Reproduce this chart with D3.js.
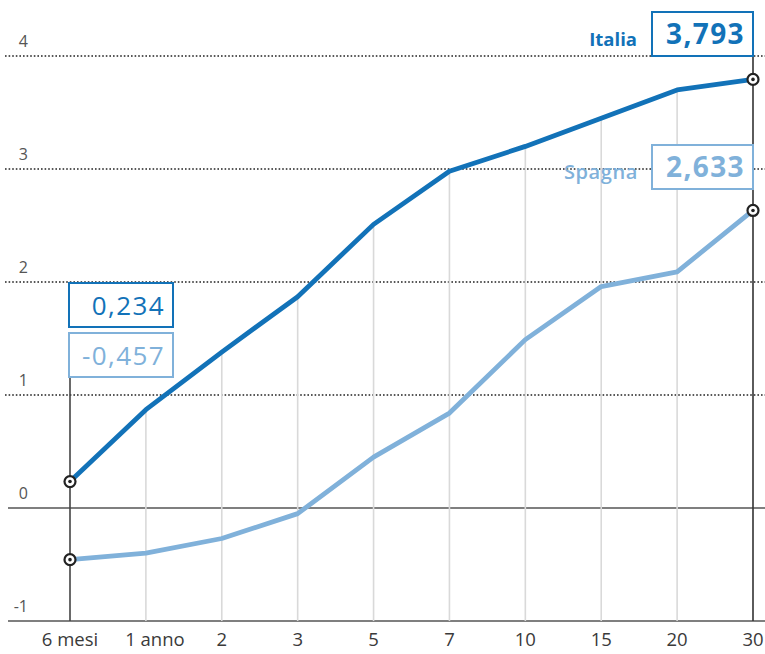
<!DOCTYPE html>
<html>
<head>
<meta charset="utf-8">
<script src="https://cdn.jsdelivr.net/npm/d3@7"></script>
<style>
  html, body { margin: 0; padding: 0; background: #fff; }
  svg { display: block; font-family: "Open Sans", sans-serif; }
</style>
</head>
<body>
<svg id="chart" width="765" height="654"></svg>
<script>
// Scadenze dei titoli (asse x)
const maturities = ["6 mesi", "1 anno", "2", "3", "5", "7", "10", "15", "20", "30"];
// Rendimenti per scadenza (%)
const italia = [0.234, 0.87, 1.38, 1.87, 2.51, 2.98, 3.20, 3.45, 3.70, 3.793];
const spagna = [-0.457, -0.40, -0.27, -0.05, 0.45, 0.84, 1.49, 1.96, 2.09, 2.633];
const yTicks = [-1, 0, 1, 2, 3, 4];

const colItalia = "#1272b8";
const colSpagna = "#80b1da";
const fmt = v => String(v.toFixed(3)).replace(".", ",");

const svg = d3.select("#chart");
const W = 765;

const x = d3.scalePoint().domain(maturities).range([70, 753]);
const y = d3.scaleLinear().domain([-1, 4]).range([621, 56]);

// Griglia orizzontale: punteggiata per i valori positivi, continua per 0 e -1
const grid = svg.append("g");
yTicks.forEach(t => {
  const solid = t <= 0;
  grid.append("line")
    .attr("x1", solid ? 8 : 5).attr("x2", W)
    .attr("y1", y(t)).attr("y2", y(t))
    .attr("stroke", solid ? "#555" : "#222")
    .attr("stroke-width", solid ? 1.6 : 1.3)
    .attr("stroke-dasharray", solid ? null : "1.6,2");
  grid.append("text")
    .attr("x", 28).attr("y", y(t) - 9)
    .attr("text-anchor", "end")
    .attr("font-size", 16)
    .attr("fill", "#555")
    .text(t);
});

// Linee verticali fino alla curva più alta
const vert = svg.append("g");
maturities.forEach((m, i) => {
  if (i === 0 || i === maturities.length - 1) return;
  vert.append("line")
    .attr("x1", x(m)).attr("x2", x(m))
    .attr("y1", y(-1)).attr("y2", y(italia[i]))
    .attr("stroke", "#d9d9d9").attr("stroke-width", 1.6);
});

// Linee verticali scure agli estremi
const first = maturities[0], last = maturities[maturities.length - 1];
vert.append("line")
  .attr("x1", x(first)).attr("x2", x(first))
  .attr("y1", y(-1)).attr("y2", 377)
  .attr("stroke", "#444").attr("stroke-width", 1.6);
vert.append("line")
  .attr("x1", x(last)).attr("x2", x(last))
  .attr("y1", y(-1)).attr("y2", 56)
  .attr("stroke", "#333").attr("stroke-width", 1.6);

// Etichette dell'asse x
const xAxis = svg.append("g");
maturities.forEach(m => {
  xAxis.append("text")
    .attr("x", x(m) + (m === "1 anno" ? 9 : 0))
    .attr("y", 646)
    .attr("text-anchor", "middle")
    .attr("font-size", 18.5)
    .attr("fill", "#3a3a3a")
    .text(m);
});

// Curve dei rendimenti
const line = d3.line()
  .x((d, i) => x(maturities[i]))
  .y(d => y(d));

svg.append("path").datum(spagna)
  .attr("d", line).attr("fill", "none")
  .attr("stroke", colSpagna).attr("stroke-width", 4.8)
  .attr("stroke-linejoin", "round");
svg.append("path").datum(italia)
  .attr("d", line).attr("fill", "none")
  .attr("stroke", colItalia).attr("stroke-width", 4.8)
  .attr("stroke-linejoin", "round");

// Marcatori agli estremi
function marker(cx, cy) {
  svg.append("circle").attr("cx", cx).attr("cy", cy).attr("r", 5.5)
    .attr("fill", "#fff").attr("stroke", "#222").attr("stroke-width", 2.2);
  svg.append("circle").attr("cx", cx).attr("cy", cy).attr("r", 1.8)
    .attr("fill", "#222");
}
const iLast = maturities.length - 1;
marker(x(first), y(italia[0]));
marker(x(first), y(spagna[0]));
marker(x(last), y(italia[iLast]));
marker(x(last), y(spagna[iLast]));

// Riquadri con i valori
function valueBox(x0, y0, w, h, value, color, bold) {
  svg.append("rect")
    .attr("x", x0).attr("y", y0).attr("width", w).attr("height", h)
    .attr("fill", "#fff").attr("stroke", color).attr("stroke-width", 2);
  svg.append("text")
    .attr("x", x0 + w - 8).attr("y", y0 + h / 2 + (bold ? 10 : 9.5))
    .attr("text-anchor", "end")
    .attr("font-size", bold ? 28 : 26)
    .attr("font-weight", bold ? 700 : 400)
    .attr("letter-spacing", bold ? 1.4 : 1.4)
    .attr("fill", color)
    .text(fmt(value));
}

valueBox(652, 12, 101, 44, italia[iLast], colItalia, true);
valueBox(652, 145, 101, 44, spagna[iLast], colSpagna, true);
valueBox(69, 283, 104, 44, italia[0], colItalia, false);
valueBox(69, 333, 104, 44, spagna[0], colSpagna, false);

// Nomi dei paesi
svg.append("text")
  .attr("x", 637).attr("y", 46)
  .attr("text-anchor", "end")
  .attr("font-size", 18.5).attr("font-weight", 700)
  .attr("fill", colItalia).text("Italia");
svg.append("text")
  .attr("x", 638).attr("y", 179)
  .attr("text-anchor", "end")
  .attr("font-size", 20).attr("font-weight", 600)
  .attr("letter-spacing", 0.6)
  .attr("fill", colSpagna).text("Spagna");
</script>
</body>
</html>
